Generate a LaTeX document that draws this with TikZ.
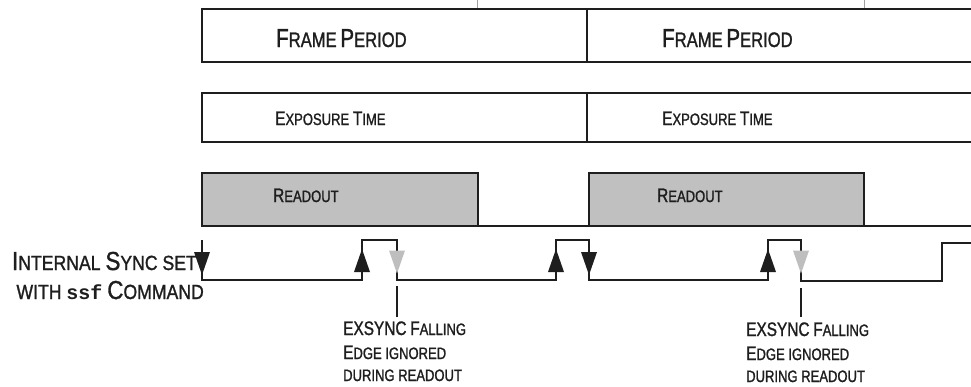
\documentclass[tikz,border=0pt]{standalone}
\usepackage{fontspec}
\usetikzlibrary{calc}
\newfontfamily\labf[FakeStretch=0.79,FakeBold=1.2]{Liberation Sans}
\newfontfamily\labw[FakeStretch=0.86,FakeBold=1.2]{Liberation Sans}
\newfontfamily\monof{Liberation Mono}
\newcommand\fz[2]{{\fontsize{#1}{#1}\selectfont #2}}
\definecolor{ink}{HTML}{1E1E1E}
\definecolor{rofill}{HTML}{C0C0C0}
\definecolor{ghost}{HTML}{BEBEBE}
\definecolor{tickc}{HTML}{A0A0A0}
\begin{document}
\begin{tikzpicture}[x=1pt,y=-1pt,
  cellbox/.style={draw=ink,line width=1.8pt,inner sep=0pt,outer sep=0pt,anchor=north west},
  rdbox/.style={draw=ink,fill=rofill,line width=1.8pt,inner sep=0pt,outer sep=0pt,anchor=north west,minimum height=53pt},
  openline/.style={draw=ink,line width=1.8pt},
  sig/.style={draw=ink,line width=1.5pt,line join=miter},
  lead/.style={draw=ink,line width=1.5pt},
  txt/.style={inner sep=0pt,anchor=base west,text=ink,font=\labf\fontsize{17pt}{17pt}\selectfont},
  ltxt/.style={inner sep=0pt,anchor=base east,text=ink,font=\labw\fontsize{20.5pt}{20.5pt}\selectfont},
  downtri/.pic={\fill (-8,-11.5) -- (8,-11.5) -- (0,11.5) -- cycle;},
  uptri/.pic={\fill (-8,11.5) -- (8,11.5) -- (0,-11.5) -- cycle;}
]
\useasboundingbox (0,0) rectangle (971,386);
\fill[white] (0,0) rectangle (971,386);

% top ticks
\coordinate (tk1a) at (477,0); \coordinate (tk1b) at (477,8);
\coordinate (tk2a) at (864,0); \coordinate (tk2b) at (864,8);
\draw[tickc,line width=0.8pt] (tk1a) -- (tk1b);
\draw[tickc,line width=0.8pt] (tk2a) -- (tk2b);

% frame period row
\node[cellbox,minimum width=385pt,minimum height=53pt] (fp1) at (202,9) {};
\coordinate (fpE1) at (971,9); \coordinate (fpE2) at (971,62);
\draw[openline] (fp1.north east) -- (fpE1);
\draw[openline] (fp1.south east) -- (fpE2);
\node[txt] (fpt1) at (276,47) {\fz{26pt}{F}\fz{21pt}{RAME} \fz{26pt}{P}\fz{21pt}{ERIOD}};
\node[txt] (fpt2) at (662,47) {\fz{26pt}{F}\fz{21pt}{RAME} \fz{26pt}{P}\fz{21pt}{ERIOD}};

% exposure row
\node[cellbox,minimum width=385pt,minimum height=49pt] (ex1) at (202,93) {};
\coordinate (exE1) at (971,93); \coordinate (exE2) at (971,142);
\draw[openline] (ex1.north east) -- (exE1);
\draw[openline] (ex1.south east) -- (exE2);
\node[txt] (ext1) at (275,125) {\fz{19.5pt}{E}\fz{16.5pt}{XPOSURE} \fz{19.5pt}{T}\fz{16.5pt}{IME}};
\node[txt] (ext2) at (662,125) {\fz{19.5pt}{E}\fz{16.5pt}{XPOSURE} \fz{19.5pt}{T}\fz{16.5pt}{IME}};

% readout row
\node[rdbox,minimum width=276pt] (rd1) at (202,173) {};
\node[rdbox,minimum width=275pt] (rd2) at (589,173) {};
\coordinate (rdE) at (971,226);
\draw[openline] (rd1.south east) -- (rd2.south west);
\draw[openline] (rd2.south east) -- (rdE);
\node[txt] (rdt1) at (273,202) {\fz{19.5pt}{R}\fz{16.5pt}{EADOUT}};
\node[txt] (rdt2) at (657,202) {\fz{19.5pt}{R}\fz{16.5pt}{EADOUT}};

% sync signal
\coordinate (f1t) at (202,240); \coordinate (f1b) at (202,280);
\coordinate (r1b) at (362,280); \coordinate (r1t) at (362,240);
\coordinate (f2t) at (397,240); \coordinate (f2b) at (397,280);
\coordinate (r2b) at (556,280); \coordinate (r2t) at (556,240);
\coordinate (f3t) at (589,240); \coordinate (f3b) at (589,280);
\coordinate (r3b) at (768,280); \coordinate (r3t) at (768,240);
\coordinate (f4t) at (801,240); \coordinate (f4b) at (801,281);
\coordinate (r4b) at (942,281); \coordinate (r4t) at (942,243);
\coordinate (sEnd) at (971,243);
\draw[sig] (f1t) -- (f1b) -- (r1b) -- (r1t) -- (f2t) -- (f2b) -- (r2b) -- (r2t)
  -- (f3t) -- (f3b) -- (r3b) -- (r3t) -- (f4t) -- (f4b) -- (r4b) -- (r4t) -- (sEnd);

% edge markers
\pic[ink] at (202,263.5) {downtri};
\pic[ink] at (362,260.5) {uptri};
\pic[ghost] at (397,262) {downtri};
\pic[ink] at (556,260.5) {uptri};
\pic[ink] at (589,263.5) {downtri};
\pic[ink] at (768,260.5) {uptri};
\pic[ghost] at (801,262) {downtri};

% leaders
\coordinate (l1a) at (397,286); \coordinate (l1b) at (397,317);
\coordinate (l2a) at (801,288); \coordinate (l2b) at (801,317);
\draw[lead] (l1a) -- (l1b);
\draw[lead] (l2a) -- (l2b);

% ignored-edge notes
\node[txt] (n1a) at (343,335) {\fz{19.5pt}{EXSYNC} \fz{19.5pt}{F}\fz{16.5pt}{ALLING}};
\node[txt] (n1b) at (343,359) {\fz{19.5pt}{E}\fz{16.5pt}{DGE IGNORED}};
\node[txt] (n1c) at (343,381) {\fz{16.5pt}{DURING READOUT}};
\node[txt] (n2a) at (746,336) {\fz{19.5pt}{EXSYNC} \fz{19.5pt}{F}\fz{16.5pt}{ALLING}};
\node[txt] (n2b) at (746,360) {\fz{19.5pt}{E}\fz{16.5pt}{DGE IGNORED}};
\node[txt] (n2c) at (746,382) {\fz{16.5pt}{DURING READOUT}};

% internal sync label
\node[ltxt] (is1) at (197,270) {\fz{26pt}{I}\fz{20.5pt}{NTERNAL} \fz{26pt}{S}\fz{20.5pt}{YNC SET}};
\node[ltxt] (is2) at (204,299) {\fz{20.5pt}{WITH} {\monof\bfseries\fontsize{20pt}{20pt}\selectfont ssf} \fz{26pt}{C}\fz{20.5pt}{OMMAND}};
\end{tikzpicture}
\end{document}
